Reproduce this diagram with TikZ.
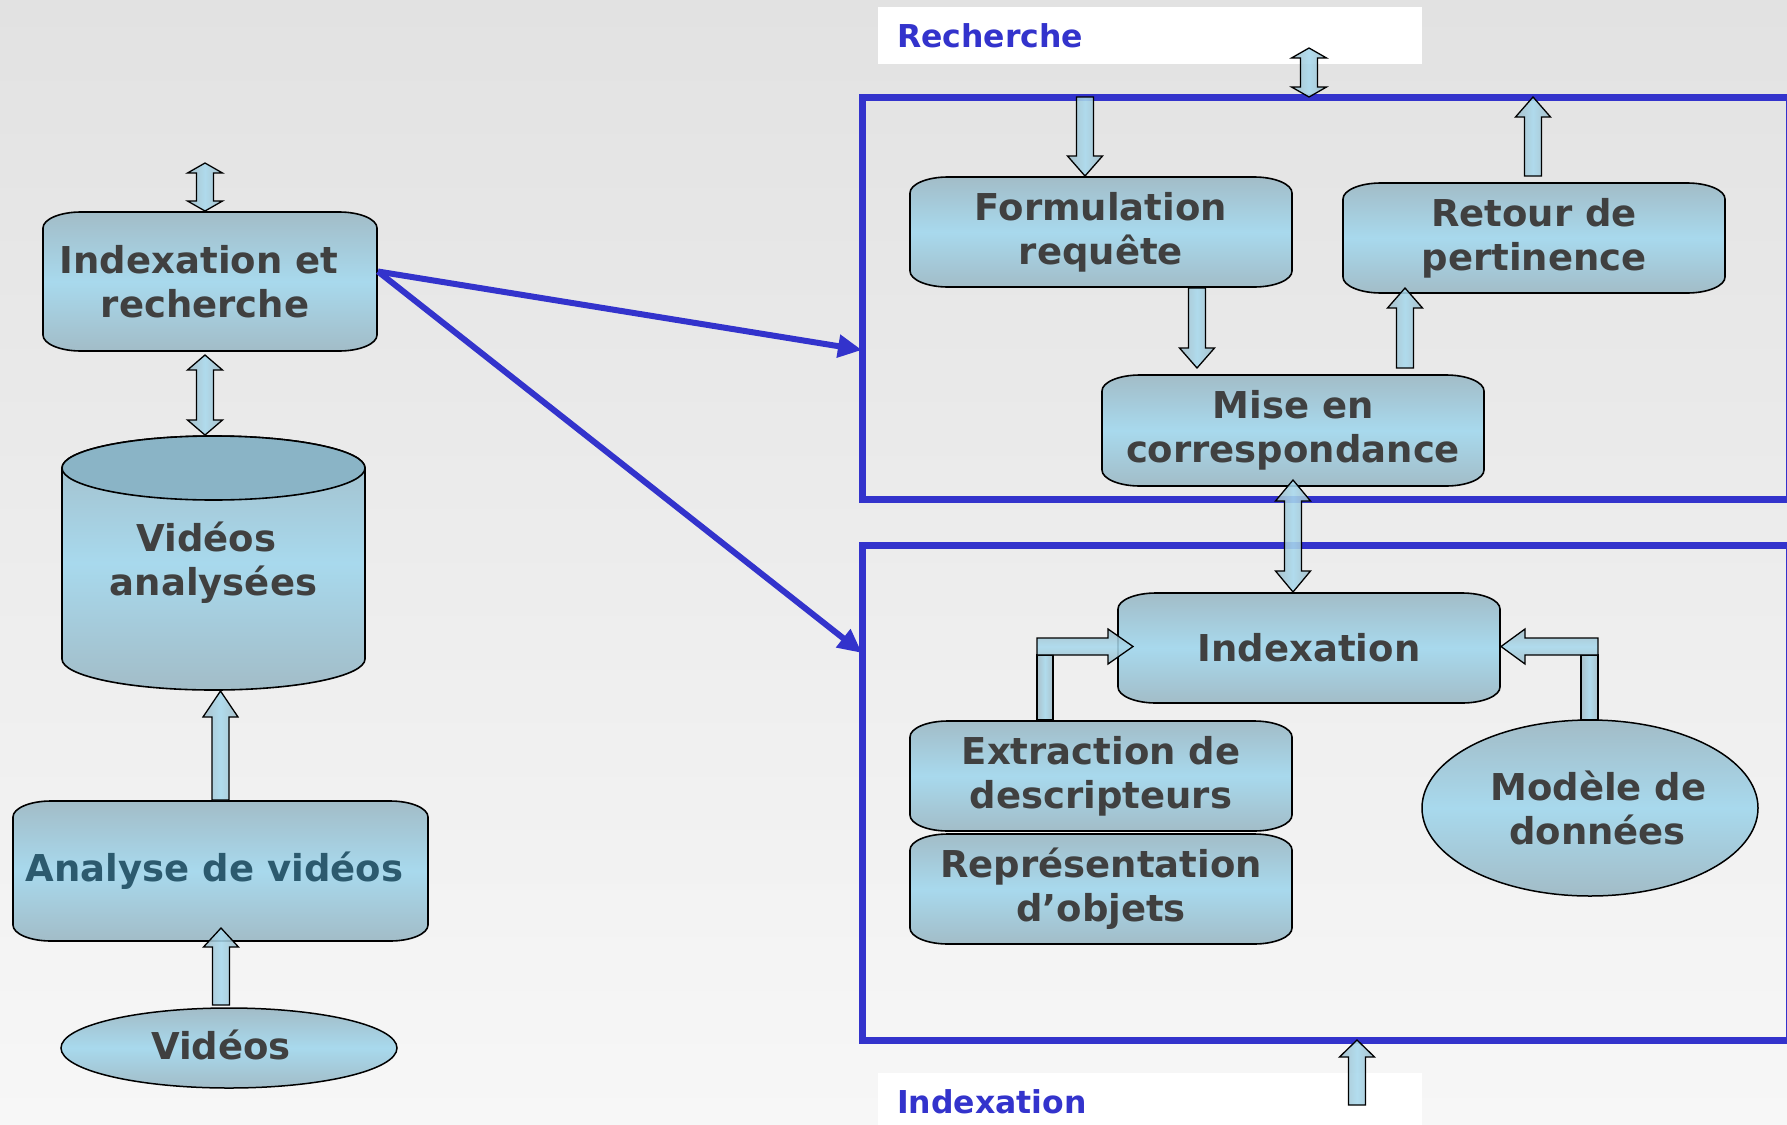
\documentclass[tikz,border=0pt]{standalone}
\usepackage{fontspec}
\setmainfont{DejaVu Sans}
\usetikzlibrary{calc,shapes.geometric,arrows.meta}

\definecolor{bgtop}{RGB}{226,226,226}
\definecolor{bgmid}{RGB}{236,236,236}
\definecolor{bgbot}{RGB}{247,247,247}
\definecolor{boxedge}{RGB}{162,188,199}
\definecolor{boxmid}{RGB}{168,217,237}
\definecolor{cylcap}{RGB}{138,180,198}
\definecolor{txtgrey}{RGB}{64,64,64}
\definecolor{txtteal}{RGB}{44,90,110}
\definecolor{frameblue}{RGB}{51,51,204}

% corner radii of the flow boxes, block arrow half widths
\def\brx{38pt}
\def\bry{16pt}
\def\sw{8.5pt}
\def\hw{17.5pt}

\tikzset{
  every node/.style={inner sep=0pt, outer sep=0pt},
  boxtext/.style={font=\fontsize{37}{44}\selectfont\bfseries, text=txtgrey, align=center},
  flowbox/.style={boxtext, rectangle, path picture={
    \path[draw=black, line width=1.6pt, top color=boxedge, bottom color=boxedge, middle color=boxmid]
      let \p1=(path picture bounding box.south west), \p2=(path picture bounding box.north east) in
      (\x1+\brx+1pt,\y2-1pt) -- (\x2-\brx-1pt,\y2-1pt)
      arc[start angle=90,end angle=0,x radius=\brx,y radius=\bry]
      -- (\x2-1pt,\y1+\bry+1pt)
      arc[start angle=0,end angle=-90,x radius=\brx,y radius=\bry]
      -- (\x1+\brx+1pt,\y1+1pt)
      arc[start angle=270,end angle=180,x radius=\brx,y radius=\bry]
      -- (\x1+1pt,\y2-\bry-1pt)
      arc[start angle=180,end angle=90,x radius=\brx,y radius=\bry]
      -- cycle;}},
  cylbox/.style={boxtext, rectangle, path picture={
    \path[draw=black, line width=1.6pt, top color=boxedge, bottom color=boxedge, middle color=boxmid]
      let \p1=(path picture bounding box.south west), \p2=(path picture bounding box.north east) in
      (\x1+1pt,\y2-33pt) -- (\x1+1pt,\y1+32pt)
      arc[start angle=180,end angle=360,x radius=151.5pt,y radius=31pt]
      -- (\x2-1pt,\y2-33pt)
      arc[start angle=0,end angle=180,x radius=151.5pt,y radius=32pt] -- cycle;
    \path[draw=black, line width=1.6pt, fill=cylcap]
      let \p1=(path picture bounding box.south west), \p2=(path picture bounding box.north east) in
      ({(\x1+\x2)/2},\y2-33pt) ellipse[x radius=151.5pt,y radius=32pt];}},
  ovalbox/.style={boxtext, ellipse, draw=black, line width=1.5pt,
    top color=boxedge, bottom color=boxedge, middle color=boxmid},
  frame/.style={rectangle, draw=frameblue, line width=7pt},
  caption/.style={rectangle, fill=white, font=\fontsize{31.5}{36}\selectfont\bfseries,
    text=frameblue, align=left, inner xsep=19pt},
  link/.style={draw=frameblue, line width=6pt, -{Triangle[length=24pt,width=22pt]}},
  vblk/.style={draw=black, line width=1.3pt, fill opacity=0.88,
    left color=boxedge, right color=boxedge, middle color=boxmid},
  hblk/.style={draw=black, line width=1.3pt, fill opacity=0.88,
    top color=boxedge, bottom color=boxedge, middle color=boxmid},
}

% vertical block arrow: tail, tip, head length
\newcommand\vsingle[3]{%
  \path[vblk] let \p1=#1, \p2=#2, \n1={ifthenelse(\y2>\y1,1,-1)} in
    (\x1-\sw,\y1) -- (\x1-\sw,{\y2-(\n1)*#3}) -- (\x1-\hw,{\y2-(\n1)*#3}) -- (\x1,\y2)
    -- (\x1+\hw,{\y2-(\n1)*#3}) -- (\x1+\sw,{\y2-(\n1)*#3}) -- (\x1+\sw,\y1) -- cycle;}
% vertical block arrow with a head at both ends
\newcommand\vdouble[3]{%
  \path[vblk] let \p1=#1, \p2=#2, \n1={ifthenelse(\y2>\y1,1,-1)} in
    (\x1,\y1) -- (\x1+\hw,{\y1+(\n1)*#3}) -- (\x1+\sw,{\y1+(\n1)*#3})
    -- (\x1+\sw,{\y2-(\n1)*#3}) -- (\x1+\hw,{\y2-(\n1)*#3}) -- (\x1,\y2)
    -- (\x1-\hw,{\y2-(\n1)*#3}) -- (\x1-\sw,{\y2-(\n1)*#3})
    -- (\x1-\sw,{\y1+(\n1)*#3}) -- (\x1-\hw,{\y1+(\n1)*#3}) -- cycle;}
% horizontal block arrow
\newcommand\hsingle[3]{%
  \path[hblk] let \p1=#1, \p2=#2, \n1={ifthenelse(\x2>\x1,1,-1)} in
    (\x1,\y1-\sw) -- ({\x2-(\n1)*#3},\y1-\sw) -- ({\x2-(\n1)*#3},\y1-\hw) -- (\x2,\y1)
    -- ({\x2-(\n1)*#3},\y1+\hw) -- ({\x2-(\n1)*#3},\y1+\sw) -- (\x1,\y1+\sw) -- cycle;}

\begin{document}
\begin{tikzpicture}[x=1pt, y=-1pt]
\useasboundingbox (0,0) rectangle (1787,1124);
\shade[top color=bgtop, middle color=bgmid, bottom color=bgbot] (0,0) rectangle (1787,1124);

% captions and frames of the two stages
\node[caption, minimum width=544pt, minimum height=57pt, text width=506pt] (reclab) at (1150,35.5) {Recherche};
\node[caption, minimum width=544pt, minimum height=57pt, text width=506pt] (idxlab) at (1150,1101.5) {Indexation};
\node[frame, minimum width=927pt, minimum height=402pt] (rechbox) at (1325.5,298) {};
\node[frame, minimum width=927pt, minimum height=495pt] (idxbox) at (1325.5,792.5) {};

% left column
\node[flowbox, minimum width=336pt, minimum height=141pt] (ixr) at (210,281.5) {\kern-22pt Indexation et\\\kern-10pt recherche};
\node[cylbox, minimum width=305pt, minimum height=256pt] (vidan) at (213.5,563) {\kern-14pt Vidéos\\analysées};
\node[flowbox, text=txtteal, minimum width=417pt, minimum height=142pt] (ana) at (220.5,871) {\kern-12pt Analyse de vidéos};
\node[ovalbox, minimum width=336pt, minimum height=80pt] (vid) at (229,1048) {\kern-16pt\raisebox{6pt}{Vidéos}};

% links from the left column to the two stages
\draw[link] ([yshift=10pt]ixr.east) -- ([yshift=-52pt]rechbox.west);
\draw[link] ([yshift=10pt]ixr.east) -- ([yshift=139.5pt]idxbox.west);

% search stage
\node[flowbox, minimum width=384pt, minimum height=112pt] (form) at (1101,232) {Formulation\\requête};
\node[flowbox, minimum width=384pt, minimum height=112pt] (ret) at (1534,238) {Retour de\\pertinence};
\node[flowbox, minimum width=384pt, minimum height=113pt] (mise) at (1293,430.5) {Mise en\\correspondance};

% indexing stage
\node[flowbox, minimum width=384pt, minimum height=112pt] (idx) at (1309,648) {Indexation};
\node[flowbox, minimum width=384pt, minimum height=112pt] (ext) at (1101,776) {Extraction de\\descripteurs};
\node[flowbox, minimum width=384pt, minimum height=112pt] (rep) at (1101,889) {Représentation\\d’objets};
\node[ovalbox, minimum width=336pt, minimum height=176pt] (mod) at (1590,808) {\kern17pt Modèle de\\\kern15pt données};

% free ends of the outer arrows
\coordinate (ixrport) at ([xshift=-5pt,yshift=48pt]ixr.north);
\coordinate (rechport) at ([xshift=-16.5pt,yshift=49pt]rechbox.north);
\coordinate (idxport) at ([xshift=31.5pt,yshift=-65pt]idxbox.south);

% block arrows, left column
\vdouble{(ixrport)}{(ixr.north)}{10pt}
\vdouble{([xshift=-5pt,yshift=-3pt]ixr.south)}{(vidan.north)}{15pt}
\vsingle{(ana.north)}{(vidan.south)}{26pt}
\vsingle{([xshift=-8pt,yshift=3pt]vid.north)}{([yshift=14pt]ana.south)}{19pt}

% block arrows, search stage
\vdouble{(rechport)}{(rechbox.north)}{10pt}
\vsingle{([xshift=-240.5pt]rechbox.north)}{(form.north)}{20pt}
\vsingle{([xshift=-1pt,yshift=6pt]ret.north)}{(rechbox.north)}{20pt}
\vsingle{([xshift=96pt]form.south)}{([yshift=6pt]mise.north)}{20pt}
\vsingle{([xshift=112pt,yshift=6pt]mise.north)}{([yshift=6pt]ret.south)}{20pt}
\vdouble{([yshift=7pt]mise.south)}{(idx.north)}{21pt}

% block arrows, indexing stage
\vsingle{(idxport)}{(idxbox.south)}{17pt}
\path[vblk] ([xshift=-64pt]ext.north) rectangle ([xshift=-48pt,yshift=65pt]ext.north);
\hsingle{([xshift=-64pt,yshift=73.5pt]ext.north)}{([xshift=16pt]idx.west)}{25pt}
\path[vblk] ([xshift=-9pt]mod.north) rectangle ([xshift=8pt,yshift=65pt]mod.north);
\hsingle{([xshift=8pt,yshift=73.5pt]mod.north)}{(idx.east)}{24pt}
\end{tikzpicture}
\end{document}
